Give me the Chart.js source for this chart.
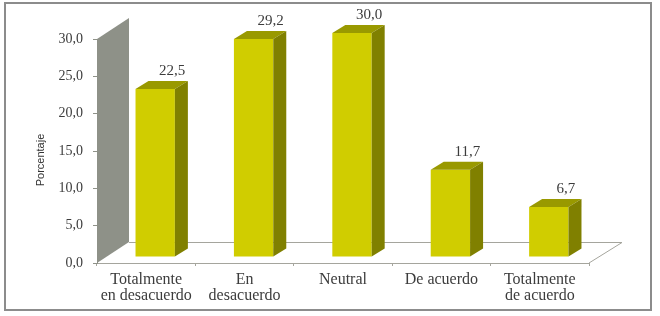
<!DOCTYPE html>
<html>
<head>
<meta charset="utf-8">
<style>
    html, body { margin: 0; padding: 0; background: #fff; }
    #frame { position: absolute; left: 4px; top: 2px; width: 644px; height: 305px; border: 2px solid #8c8c8c; }
    canvas { position: absolute; left: 0; top: 0; }
</style>
<script src="https://cdn.jsdelivr.net/npm/chart.js@4"></script>
</head>
<body>
<div id="frame"></div>
<canvas id="chart" width="660" height="316"></canvas>
<script>
const categories = [['Totalmente', 'en desacuerdo'], ['En', 'desacuerdo'], 'Neutral', 'De acuerdo', ['Totalmente', 'de acuerdo']];
const values = [22.5, 29.2, 30.0, 11.7, 6.7];
const yTicks = [0, 5, 10, 15, 20, 25, 30];
const yTitle = 'Porcentaje';

const serif = '"Liberation Serif", serif';
const textColor = '#3c3c3c';
const depthX = 32, depthY = 21;       // walls
const barDepthX = 13, barDepthY = 8;  // bars
const barShiftX = 9, barShiftY = -6;  // bars sit inside the floor

function fmt(v) {
    return v.toFixed(1).replace('.', ',');
}

function poly(ctx, color, pts) {
    ctx.fillStyle = color;
    ctx.beginPath();
    pts.forEach((p, i) => i ? ctx.lineTo(p[0], p[1]) : ctx.moveTo(p[0], p[1]));
    ctx.closePath();
    ctx.fill();
}

const fake3d = {
    id: 'fake3d',
    beforeDatasetsDraw(chart) {
        const { ctx, chartArea: a } = chart;
        ctx.save();
        // back wall
        poly(ctx, '#8e9188', [[a.left, a.top], [a.left + depthX, a.top - depthY], [a.left + depthX, a.bottom - depthY], [a.left, a.bottom]]);
        // floor outline
        ctx.strokeStyle = '#a5a59d';
        ctx.lineWidth = 1;
        ctx.beginPath();
        ctx.moveTo(a.left + depthX, a.bottom - depthY + 0.5);
        ctx.lineTo(a.right + depthX + 1, a.bottom - depthY + 0.5);
        ctx.lineTo(a.right, a.bottom);
        ctx.stroke();
        ctx.restore();
        // shift the bars for the front faces
        ctx.save();
        ctx.translate(barShiftX, barShiftY);
    },
    afterDatasetsDraw(chart) {
        const { ctx } = chart;
        ctx.restore();
        ctx.save();
        ctx.translate(barShiftX, barShiftY);
        chart.getDatasetMeta(0).data.forEach((bar, i) => {
            const l = bar.x - bar.width / 2, r = bar.x + bar.width / 2;
            poly(ctx, '#999900', [[l, bar.y], [l + barDepthX, bar.y - barDepthY], [r + barDepthX, bar.y - barDepthY], [r, bar.y]]);
            poly(ctx, '#808000', [[r, bar.y], [r + barDepthX, bar.y - barDepthY], [r + barDepthX, bar.base - barDepthY], [r, bar.base]]);
            ctx.fillStyle = textColor;
            ctx.font = '15px ' + serif;
            ctx.textAlign = 'center';
            ctx.textBaseline = 'middle';
            ctx.fillText(fmt(values[i]), bar.x + 17, bar.y - 18);
        });
        ctx.restore();
    },
    afterDraw(chart) {
        // axis title sits lower than the middle of the axis
        const { ctx } = chart;
        ctx.save();
        ctx.translate(41, 160);
        ctx.rotate(-Math.PI / 2);
        ctx.fillStyle = '#333';
        ctx.font = '11px "Liberation Sans", sans-serif';
        ctx.textAlign = 'center';
        ctx.textBaseline = 'middle';
        ctx.fillText(yTitle, 0, 0);
        ctx.restore();
    }
};

new Chart(document.getElementById('chart'), {
    type: 'bar',
    data: {
        labels: categories,
        datasets: [{
            data: values,
            backgroundColor: '#d0cd00',
            categoryPercentage: 1,
            barPercentage: 0.4
        }]
    },
    plugins: [fake3d],
    options: {
        responsive: false,
        animation: false,
        layout: { padding: { left: 0, right: 71, top: 39, bottom: 0 } },
        plugins: { legend: { display: false }, tooltip: { enabled: false } },
        scales: {
            x: {
                afterFit(scale) { scale.height = 53; },
                grid: { drawOnChartArea: false, color: '#a5a59d', tickLength: 3 },
                border: { color: '#a5a59d' },
                ticks: { color: textColor, font: { family: serif, size: 16, lineHeight: 1 }, maxRotation: 0, autoSkip: false, padding: 6 }
            },
            y: {
                min: 0,
                max: 30,
                afterFit(scale) { scale.width = 97; },
                afterBuildTicks(scale) { scale.ticks = yTicks.map(v => ({ value: v })); },
                grid: { drawOnChartArea: false, color: '#8e9188', tickLength: 4 },
                border: { color: '#8e9188' },
                ticks: { color: textColor, font: { family: serif, size: 14 }, padding: 10, callback: v => fmt(v) }
            }
        }
    }
});
</script>
</body>
</html>
